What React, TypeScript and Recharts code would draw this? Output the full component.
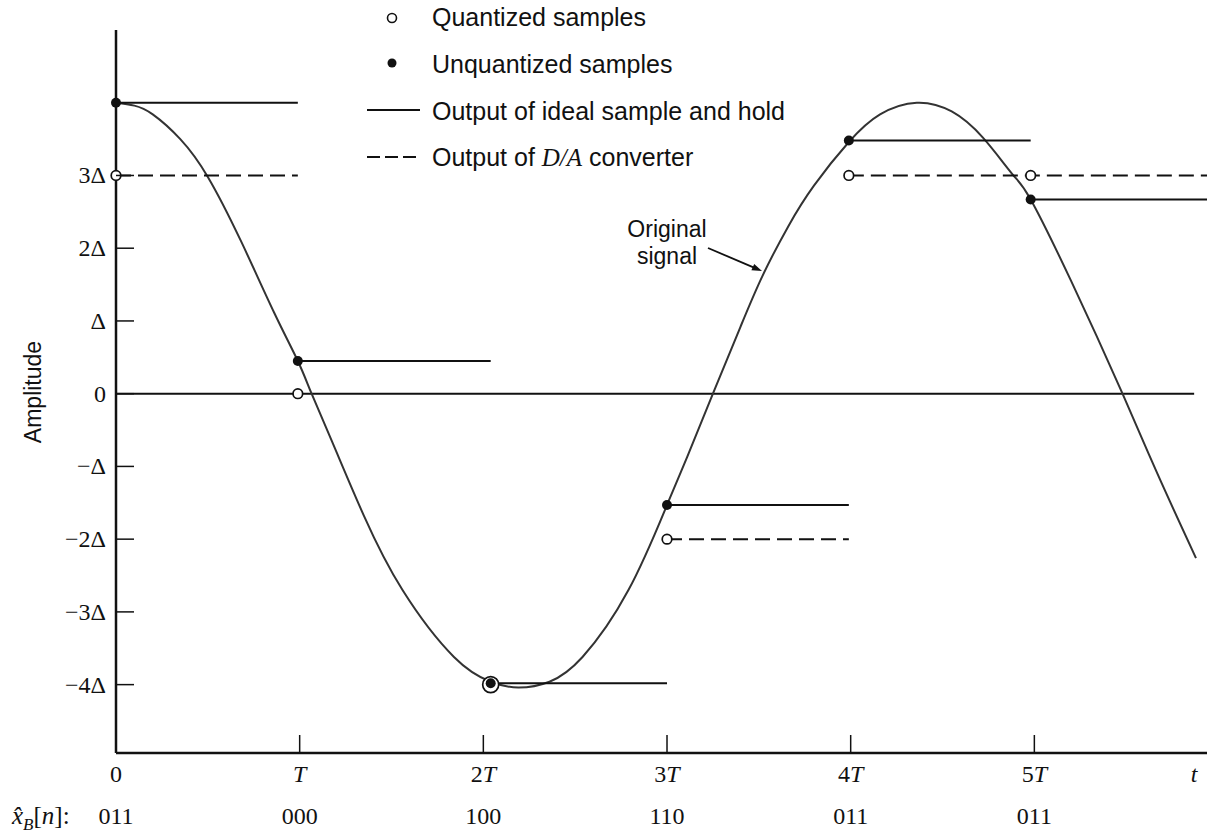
import { ComposedChart, Line, XAxis, YAxis } from "recharts";

// sample instants (in units of T) and their values (in units of Δ)
const SAMPLE_T = [0, 0.99, 2.04, 3.0, 3.99, 4.98];
const UNQUANTIZED = [4.0, 0.45, -3.98, -1.53, 3.48, 2.67];
const QUANTIZED = [3, 0, -4, -2, 3, 3];
const CODES = ["011", "000", "100", "110", "011", "011"];

// original signal
const CURVE_T = [
  0, 0.1, 0.2, 0.35, 0.5, 0.68, 0.86, 0.99, 1.065, 1.18, 1.35, 1.56, 1.84, 2.04, 2.19, 2.36,
  2.54, 2.79, 3.0, 3.11, 3.25, 3.4, 3.52, 3.66, 3.8, 3.99, 4.16, 4.36, 4.55, 4.72, 4.88,
  4.98, 5.2, 5.48, 5.67, 5.88,
];
const CURVE_V = [
  4.0, 3.96, 3.84, 3.5, 2.98, 2.1, 1.12, 0.45, 0.0, -0.68, -1.68, -2.7, -3.62, -3.96, -4.04, -3.96,
  -3.62, -2.7, -1.53, -0.87, 0.0, 0.92, 1.62, 2.3, 2.86, 3.46, 3.84, 4.0, 3.88, 3.52, 3.02,
  2.67, 1.55, 0.0, -1.1, -2.26,
];

const X_TICKS = [0, 1, 2, 3, 4, 5, 5.87];
const X_TICK_LABELS = [["0", ""], ["", "T"], ["2", "T"], ["3", "T"], ["4", "T"], ["5", "T"], ["", "t"]];
const Y_TICKS = [-4, -3, -2, -1, 0, 1, 2, 3];
const Y_TICK_LABELS = ["−4Δ", "−3Δ", "−2Δ", "−Δ", "0", "Δ", "2Δ", "3Δ"];

const T_END = 5.94;
const ZERO_END = 5.87;
const Y_DOMAIN = [-4.94, 5.0];

const W = 1207;
const H = 833;
const LEFT = 116;
const TOP = 30;
const BOTTOM = 80;
const AXIS_Y = H - BOTTOM;

const SANS = "'Liberation Sans', Arial, sans-serif";
const SERIF = "'Liberation Serif', 'Times New Roman', serif";
const INK = "#111";

type Pt = { t: number; v: number | null };

const curveData: Pt[] = CURVE_T.map((t, i) => ({ t, v: CURVE_V[i] }));
const zeroData: Pt[] = [{ t: 0, v: 0 }, { t: ZERO_END, v: 0 }];

const holdData: Pt[] = SAMPLE_T.flatMap((t, i) => {
  const end = SAMPLE_T[i + 1] ?? T_END;
  return [{ t, v: UNQUANTIZED[i] }, { t: end, v: UNQUANTIZED[i] }, { t: end, v: null }];
});

const dacData: Pt[] = [];
QUANTIZED.forEach((q, i) => {
  const t0 = SAMPLE_T[i];
  const t1 = SAMPLE_T[i + 1] ?? T_END;
  const last = dacData[dacData.length - 1];
  // hidden behind the hold line or the zero line when they coincide
  if (q === 0 || Math.abs(q - UNQUANTIZED[i]) < 0.1) {
    dacData.push({ t: t0, v: null });
    return;
  }
  const continues = last && last.v === q && last.t === t0;
  if (!continues) dacData.push({ t: t0, v: null }, { t: t0, v: q });
  dacData.push({ t: t1, v: q });
});

const sampleData = SAMPLE_T.map((t, i) => ({ t, u: UNQUANTIZED[i], q: QUANTIZED[i] }));

const QuantDot = (p: any) => {
  const { cx, cy, payload, index } = p;
  if (cx == null || cy == null) return <g key={`q${index}`} />;
  const ring = Math.abs(payload.q - payload.u) < 0.1;
  return (
    <circle key={`q${index}`} cx={cx} cy={cy} r={ring ? 8 : 4.8} fill="#fff" stroke={INK} strokeWidth={1.7} />
  );
};

const UnquantDot = (p: any) => {
  const { cx, cy, index } = p;
  if (cx == null || cy == null) return <g key={`u${index}`} />;
  return <circle key={`u${index}`} cx={cx} cy={cy} r={5} fill={INK} />;
};

const XTick = (p: any) => {
  const { x, index } = p;
  const [num, it] = X_TICK_LABELS[index] ?? ["", ""];
  const showMark = index > 0 && index < CODES.length;
  return (
    <g>
      {showMark && <line x1={x} x2={x} y1={AXIS_Y - 18} y2={AXIS_Y} stroke={INK} strokeWidth={1.5} />}
      <text x={x} y={782} textAnchor="middle" fontFamily={SERIF} fontSize={24} fill={INK}>
        {num}
        {it && <tspan fontStyle="italic">{it}</tspan>}
      </text>
      {index < CODES.length && (
        <text x={x} y={824} textAnchor="middle" fontFamily={SERIF} fontSize={24} fill={INK}>
          {CODES[index]}
        </text>
      )}
    </g>
  );
};

const YTick = (p: any) => {
  const { y, index } = p;
  return (
    <g>
      <line x1={LEFT} x2={LEFT + 18} y1={y} y2={y} stroke={INK} strokeWidth={1.5} />
      <text
        x={LEFT - 10}
        y={y}
        textAnchor="end"
        dominantBaseline="central"
        fontFamily={SERIF}
        fontSize={24}
        fill={INK}
      >
        {Y_TICK_LABELS[index]}
      </text>
    </g>
  );
};

function Overlay() {
  return (
    <svg
      width={W}
      height={H}
      style={{ position: "absolute", left: 0, top: 0, pointerEvents: "none" }}
    >
      {/* legend */}
      <g fontFamily={SANS} fontSize={25} fill={INK}>
        <circle cx={392} cy={18} r={4.5} fill="#fff" stroke={INK} strokeWidth={1.6} />
        <text x={432} y={26}>Quantized samples</text>
        <circle cx={392} cy={63} r={4.5} fill={INK} />
        <text x={432} y={73}>Unquantized samples</text>
        <line x1={367} x2={420} y1={110} y2={110} stroke={INK} strokeWidth={2} />
        <text x={432} y={120}>Output of ideal sample and hold</text>
        <line x1={367} x2={420} y1={157} y2={157} stroke={INK} strokeWidth={2} strokeDasharray="13 5" />
        <text x={432} y={166}>
          Output of{" "}
          <tspan fontFamily={SERIF} fontStyle="italic">
            D/A
          </tspan>{" "}
          converter
        </text>
      </g>

      {/* axis title */}
      <text
        x={33}
        y={392}
        transform="rotate(-90 33 392)"
        textAnchor="middle"
        dominantBaseline="central"
        fontFamily={SANS}
        fontSize={23}
        fill={INK}
      >
        Amplitude
      </text>

      {/* annotation */}
      <g fontFamily={SANS} fontSize={23} fill={INK} textAnchor="middle">
        <text x={667} y={237}>Original</text>
        <text x={667} y={264}>signal</text>
      </g>
      <line x1={708} y1={248} x2={754} y2={267.6} stroke={INK} strokeWidth={1.8} />
      <polygon points="762,271 751.4,270.3 754.2,263.9" fill={INK} />

      {/* code row label */}
      <text x={12} y={824} fontFamily={SERIF} fontSize={25} fill={INK}>
        <tspan fontStyle="italic">{"x\u0302"}</tspan>
        <tspan fontStyle="italic" fontSize={17} dy={6}>
          B
        </tspan>
        <tspan dy={-6}>[</tspan>
        <tspan fontStyle="italic">n</tspan>
        <tspan>]:</tspan>
      </text>
    </svg>
  );
}

export default function App() {
  return (
    <div style={{ position: "absolute", left: 0, top: 0, width: W, height: H, background: "#fff" }}>
      <ComposedChart width={W} height={H} margin={{ top: TOP, right: 0, bottom: 0, left: 0 }}>
        <XAxis
          type="number"
          dataKey="t"
          domain={[0, T_END]}
          ticks={X_TICKS}
          interval={0}
          height={BOTTOM}
          tickLine={false}
          axisLine={{ stroke: INK, strokeWidth: 2.5 }}
          tick={<XTick />}
        />
        <YAxis
          type="number"
          domain={Y_DOMAIN}
          ticks={Y_TICKS}
          interval={0}
          width={LEFT}
          tickLine={false}
          axisLine={{ stroke: INK, strokeWidth: 2.5 }}
          tick={<YTick />}
        />
        <Line
          data={zeroData}
          dataKey="v"
          type="linear"
          stroke={INK}
          strokeWidth={2}
          dot={false}
          activeDot={false}
          isAnimationActive={false}
        />
        <Line
          data={curveData}
          dataKey="v"
          type="natural"
          stroke="#333"
          strokeWidth={2}
          dot={false}
          activeDot={false}
          isAnimationActive={false}
        />
        <Line
          data={holdData}
          dataKey="v"
          type="linear"
          stroke={INK}
          strokeWidth={2}
          dot={false}
          activeDot={false}
          isAnimationActive={false}
        />
        <Line
          data={dacData}
          dataKey="v"
          type="linear"
          stroke={INK}
          strokeWidth={2}
          strokeDasharray="15 7"
          dot={false}
          activeDot={false}
          isAnimationActive={false}
        />
        <Line
          data={sampleData}
          dataKey="q"
          stroke="none"
          dot={QuantDot}
          activeDot={false}
          isAnimationActive={false}
        />
        <Line
          data={sampleData}
          dataKey="u"
          stroke="none"
          dot={UnquantDot}
          activeDot={false}
          isAnimationActive={false}
        />
      </ComposedChart>
      <Overlay />
    </div>
  );
}
